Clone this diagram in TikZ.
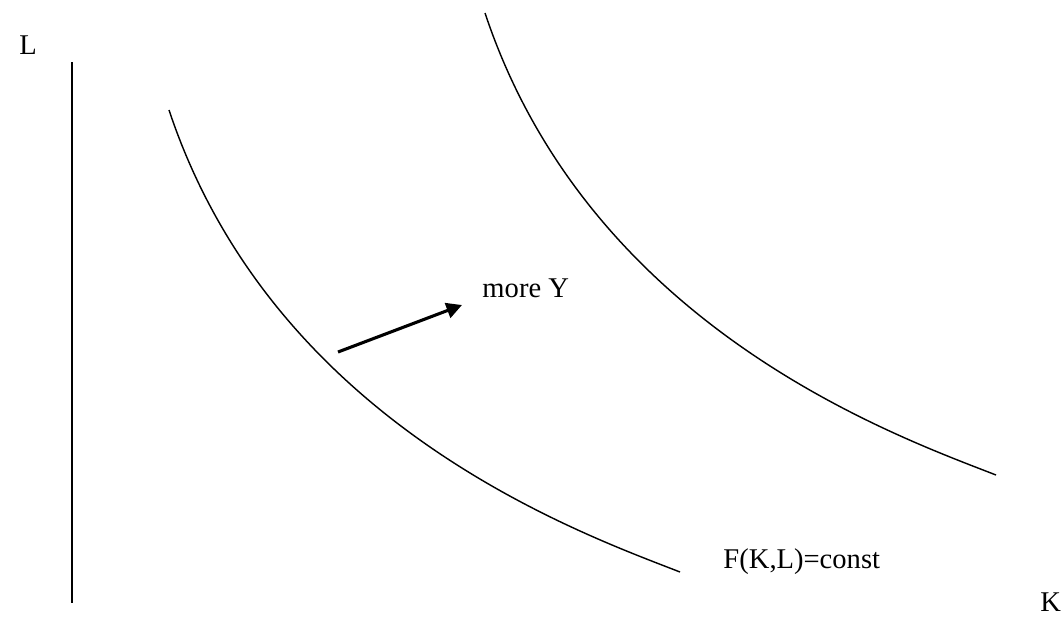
\documentclass[tikz,border=0pt]{standalone}
\usepackage{fontspec}
\setmainfont{Liberation Serif}
\usetikzlibrary{arrows.meta}

\begin{document}
\begin{tikzpicture}[x=0.42pt, y=-0.42pt,
    lbl/.style={inner sep=0pt, anchor=base west, font=\fontsize{12}{14}\selectfont},
    iso/.style={line width=0.6pt},
    shiftarrow/.style={line width=1.3pt, -{Triangle[length=6.5pt, width=6.5pt]}}]
    % Page size
    \useasboundingbox (0,0) rectangle (1061,619);

    % Axis
    \coordinate (top) at (72,62);
    \coordinate (bottom) at (72,603);
    \draw[line width=0.8pt] (top) -- (bottom);

    % Axis labels
    \node[lbl] (labL) at (19,54) {L};
    \node[lbl] (labK) at (1040,611) {K};

    % Isoquants (second one shifted by (316,-97))
    \draw[iso] (169,110) .. controls (274,425) and (580,533) .. (680,572);
    \draw[iso] (485,13) .. controls (590,328) and (896,436) .. (996,475);

    % Arrow
    \coordinate (from) at (338,352);
    \coordinate (to) at (462,305);
    \draw[shiftarrow] (from) -- (to);

    % Other labels
    \node[lbl] (more) at (482,297) {more Y};
    \node[lbl] (const) at (723,568) {F(K,L)=const};
\end{tikzpicture}
\end{document}
